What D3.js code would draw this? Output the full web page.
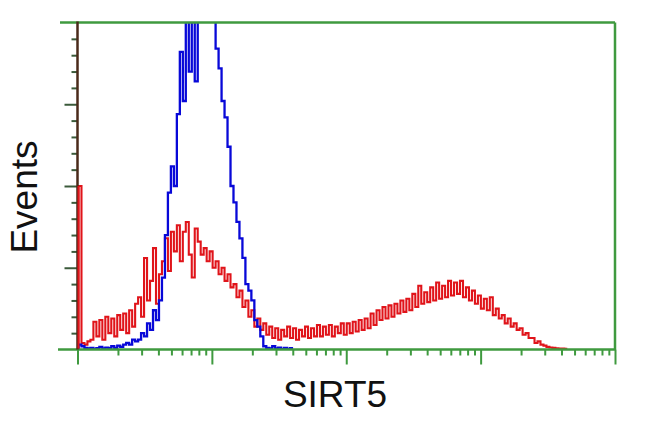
<!DOCTYPE html>
<html><head><meta charset="utf-8">
<script src="https://cdn.jsdelivr.net/npm/d3@7"></script>
<style>html,body{margin:0;padding:0;background:#fff;}svg{display:block;}</style>
</head><body>
<svg id="c" width="650" height="432"></svg>
<script>
// histogram bins (channel index 0..179 across 4 log decades), values in % of full scale
const binCount = 180;
const blueCounts = [1.5,1,0.5,0.3,0.5,0.2,0.4,0.8,0.3,0.6,0.4,1,0.5,1.2,0.8,1.5,2,1.5,3,2.5,
  3,5,4,8,6,12,9,15,22,35,48,56,50,72,91,76,102,85,104,82,
  108,112,115,110,113,106,92,86,76,71,62,50,45,39,34,28,20,18,15,9,
  7,4,1,0.5,0.3,1,0.3,0.6,0.2,0.5,0.2,0.4];
const redCounts = [50,2,1.5,2.5,3,8.5,4,9,3,10,5,9.5,4,10.5,6,11,5,12,7,14,
  16,10,28,15,21,31,14,23,27,34,24,36,30,38,27,36,39,29,22,37,
  33,29,31,27,30,25,27,23,25,21,23,19,20,16,18,13,15,10,12,7,
  9.5,6,8,4.5,7,3.5,6.5,3,6,4,7,3.5,6.5,3,6,4,7,3.5,6.5,4,
  7.5,4,7,4.5,7.5,4,7,5,8,4.5,8,5,8.5,5.5,9,6,9.5,6.5,11,7.5,
  12,9,13,9.5,13.5,10,14,11,15,11.5,15.5,12,17,13,19.5,14,17.5,14.5,19,15,
  20.5,15.5,19.5,16,21,16.5,20.5,17,21,16,19,15,18,14,16.5,12.5,15.5,12,16,10.5,
  12.5,9.5,10.5,8,9.5,7,8,6,6.5,4.5,5,3.5,3.5,2,2.5,1.5,1.2,0.8,0.6,0.5,
  0.4,0.3,0.3,0.2];
const xDomain = [1, 10000];
const yDomain = [0, 100];
const xLabel = "SIRT5";
const yLabel = "Events";

const svg = d3.select("#c");
const L = 77.5, R = 615, T = 22.5, B = 349.5;
const green = "#3f9a3f";

const xLog = d3.scaleLog().domain(xDomain).range([L, R]);
const xBin = d3.scaleLinear().domain([0, binCount]).range([L + 1, R]);
const y = d3.scaleLinear().domain(yDomain).range([B, T]);

svg.append("defs").append("clipPath").attr("id","clip")
  .append("rect").attr("x", L).attr("y", T).attr("width", R - L).attr("height", B - T);

function stepPts(arr){
  const pts = [[0, 0]];
  arr.forEach((v,i)=>pts.push([i, v]));
  pts.push([arr.length, arr[arr.length-1]]);
  return pts;
}
const line = d3.line().x(d=>xBin(d[0])).y(d=>y(d[1])).curve(d3.curveStepAfter);

const g = svg.append("g").attr("clip-path","url(#clip)");
g.append("path").attr("d", line(stepPts(redCounts))).attr("fill","none")
  .attr("stroke","#e0141a").attr("stroke-width",2.1);
g.append("path").attr("d", line(stepPts(blueCounts))).attr("fill","none")
  .attr("stroke","#0808d8").attr("stroke-width",2.3);

// frame: top and right green
svg.append("line").attr("x1",60).attr("x2",R).attr("y1",T).attr("y2",T).attr("stroke",green).attr("stroke-width",2.5);
svg.append("line").attr("x1",R).attr("x2",R).attr("y1",T).attr("y2",B).attr("stroke",green).attr("stroke-width",2.5);

// x axis (log)
const xMinor = [];
for (let d = 1; d < 10000; d *= 10) for (let k = 2; k <= 9; k++) xMinor.push(d*k);
const xMajor = [1,10,100,1000,10000];
const xa = svg.append("g").attr("transform",`translate(0,${B})`);
xa.call(d3.axisBottom(xLog).tickValues(xMinor).tickSize(6).tickFormat(""));
xa.append("g").call(d3.axisBottom(xLog).tickValues(xMajor).tickSize(15).tickFormat(""));
xa.selectAll("path.domain").remove();
xa.selectAll("line").attr("stroke",green).attr("stroke-width",2);
svg.append("line").attr("x1",58).attr("x2",R+1).attr("y1",B).attr("y2",B).attr("stroke",green).attr("stroke-width",2.5);

// y axis
const yMinor = d3.range(0, 101, 5).filter(v=>v%25!==0);
const yMajor = [25,50,75];
const ya = svg.append("g").attr("transform",`translate(${L},0)`);
ya.call(d3.axisLeft(y).tickValues(yMinor).tickSize(6).tickFormat(""));
ya.append("g").call(d3.axisLeft(y).tickValues(yMajor).tickSize(13).tickFormat(""));
ya.selectAll("path.domain").remove();
ya.selectAll("line").attr("stroke","#3a5a3a").attr("stroke-width",2);
svg.append("line").attr("x1",L).attr("x2",L).attr("y1",T-1).attr("y2",B).attr("stroke","#4a2a1a").attr("stroke-width",2.5);
// left spike of red overlays axis bottom
svg.append("line").attr("x1",L+1).attr("x2",L+1).attr("y1",y(redCounts[0])).attr("y2",B-1).attr("stroke","#e0141a").attr("stroke-width",2);

// labels
svg.append("text").attr("x",335).attr("y",407).attr("text-anchor","middle")
  .attr("font-family","Liberation Sans, Arial, sans-serif").attr("font-size",37).attr("fill","#111").text(xLabel);
svg.append("text").attr("transform","translate(37,197) rotate(-90)").attr("text-anchor","middle")
  .attr("font-family","Liberation Sans, Arial, sans-serif").attr("font-size",37).attr("fill","#111").text(yLabel);
</script>
</body></html>
